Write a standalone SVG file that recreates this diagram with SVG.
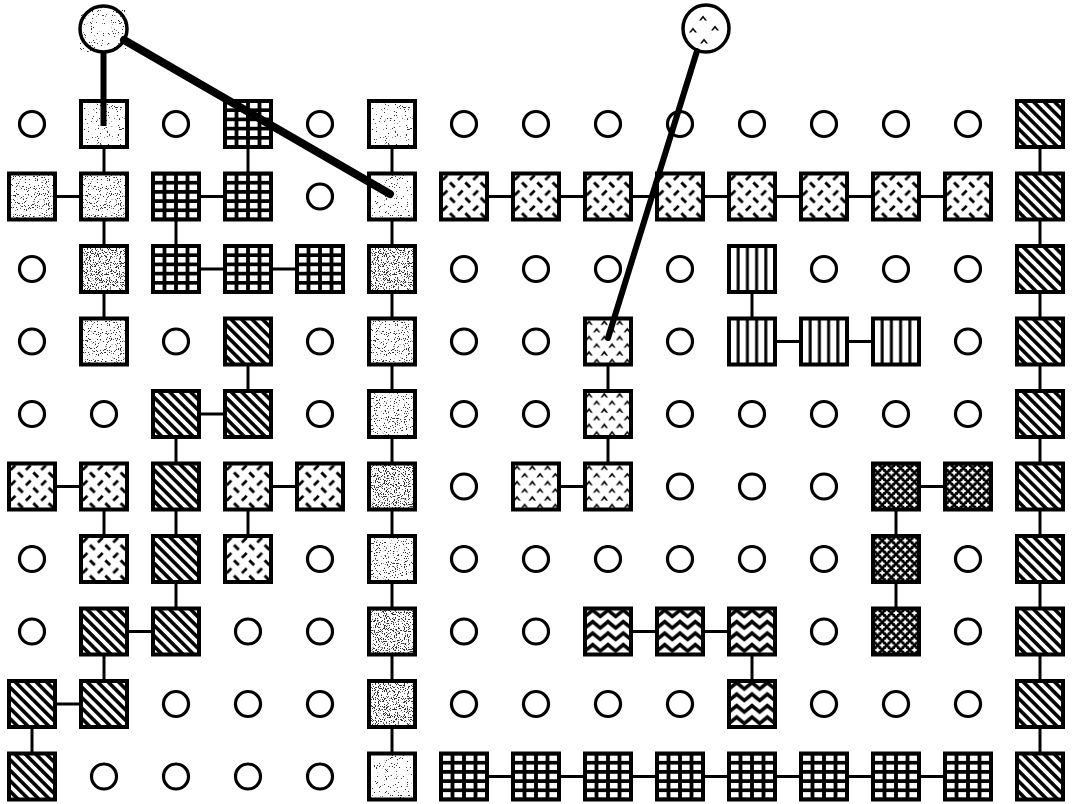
<svg xmlns="http://www.w3.org/2000/svg" width="1072" height="804" viewBox="0 0 1072 804">
<style>
.sq{stroke:#000;stroke-width:4}
.bx{stroke:#000;stroke-width:4;fill:none}
.wh{fill:#fff}
.dot{fill:#fff;stroke:#000;stroke-width:3.2}
.G{fill:url(#pG)}
.D{fill:url(#pD)}
.S{fill:url(#pS)}
.T{fill:url(#pT)}
.V{fill:url(#pV)}
.X{fill:url(#pX)}
.W{fill:url(#pW)}
.La{filter:url(#stA)}
.Lb{filter:url(#stB)}
.Lc{filter:url(#stC)}
.cn line{stroke:#000;stroke-width:3}
.hv{stroke:#000;fill:none}
</style>
<defs>
<pattern id="pG" patternUnits="userSpaceOnUse" x="-28.75" y="-27.6" width="11.5" height="9.2"><rect width="11.5" height="9.2" fill="#fff"/><path d="M5.75 0V9.2M0 4.6H11.5" stroke="#000" stroke-width="3.8"/></pattern>
<pattern id="pV" patternUnits="userSpaceOnUse" x="-27.6" y="0" width="9.2" height="10"><rect width="9.2" height="10" fill="#fff"/><path d="M4.6 0V10" stroke="#000" stroke-width="3"/></pattern>
<pattern id="pD" patternUnits="userSpaceOnUse" x="0" y="0" width="7.4" height="7.4" patternTransform="rotate(-45)"><rect width="7.4" height="7.4" fill="#fff"/><path d="M3.7 0V7.4" stroke="#000" stroke-width="3.6"/></pattern>
<pattern id="pX" patternUnits="userSpaceOnUse" x="-23" y="-23" width="9.2" height="9.2"><rect width="9.2" height="9.2" fill="#000"/><path d="M-2.4 0H2.4M0 -2.4V2.4M6.8 0H11.6M9.2 -2.4V2.4M-2.4 9.2H2.4M0 6.8V11.6M6.8 9.2H11.6M9.2 6.8V11.6M2.2 4.6H7M4.6 2.2V7" stroke="#fff" stroke-width="1.9"/></pattern>
<pattern id="pW" patternUnits="userSpaceOnUse" x="-23" y="-24" width="15.33" height="11.5"><rect width="15.33" height="11.5" fill="#fff"/><path d="M-7.67 2.6L0 9L7.67 2.6L15.33 9L23 2.6" stroke="#000" stroke-width="3.6" fill="none"/></pattern>
<pattern id="pS" patternUnits="userSpaceOnUse" x="-23" y="-23" width="15.33" height="15.33"><rect width="15.33" height="15.33" fill="#fff"/><path d="M1.6 6.4L6.4 1.6M9 9L13.8 13.8" stroke="#000" stroke-width="2.8"/></pattern>
<pattern id="pT" patternUnits="userSpaceOnUse" x="-23" y="-23" width="15.33" height="15.33"><rect width="15.33" height="15.33" fill="#fff"/><path d="M0.3 6.5L4 1.5L7.7 6.5L5.8 6.5L4 4.2L2.2 6.5ZM8 14L11.7 9L15.4 14L13.5 14L11.7 11.7L9.9 14Z" fill="#000"/></pattern>
<filter id="stA" x="0" y="0" width="1" height="1" color-interpolation-filters="sRGB">
<feTurbulence type="fractalNoise" baseFrequency="0.9" numOctaves="2" seed="4" result="n"/>
<feColorMatrix in="n" type="matrix" values="0 0 0 0 0.2 0 0 0 0 0.2 0 0 0 0 0.2 -20 0 0 0 6.5" result="d"/>
<feMerge><feMergeNode in="SourceGraphic"/><feMergeNode in="d"/></feMerge>
</filter>
<filter id="stB" x="0" y="0" width="1" height="1" color-interpolation-filters="sRGB">
<feTurbulence type="fractalNoise" baseFrequency="0.9" numOctaves="2" seed="9" result="n"/>
<feColorMatrix in="n" type="matrix" values="0 0 0 0 0.2 0 0 0 0 0.2 0 0 0 0 0.2 -20 0 0 0 7.5" result="d"/>
<feMerge><feMergeNode in="SourceGraphic"/><feMergeNode in="d"/></feMerge>
</filter>
<filter id="stC" x="0" y="0" width="1" height="1" color-interpolation-filters="sRGB">
<feTurbulence type="fractalNoise" baseFrequency="0.9" numOctaves="2" seed="17" result="n"/>
<feColorMatrix in="n" type="matrix" values="0 0 0 0 0.2 0 0 0 0 0.2 0 0 0 0 0.2 -20 0 0 0 8.7" result="d"/>
<feMerge><feMergeNode in="SourceGraphic"/><feMergeNode in="d"/></feMerge>
</filter>
<rect id="sqr" x="-23" y="-23" width="46" height="46"/>
</defs>
<rect width="1072" height="804" fill="#fff"/>

<g id="top-left-circle" transform="translate(103.5,29)"><ellipse rx="23.5" ry="23" class="wh La"/><ellipse rx="23.5" ry="23" class="bx" style="stroke-width:3.5"/></g>
<g id="top-right-circle" transform="translate(706,28.5)"><ellipse rx="23" ry="23.5" class="dot" style="stroke-width:3.5"/><path d="M-7 -8L-3 -13L1 -8L-1 -8L-3 -10.5L-5 -8ZM-17 4L-13 -1L-9 4L-11 4L-13 1.5L-15 4ZM5 2L9 -3L13 2L11 2L9 -0.5L7 2ZM-6 15L-2 10L2 15L0 15L-2 12.5L-4 15Z" fill="#000"/></g>

<g id="nodes">
<!-- row 1 y=124 -->
<g id="r1c1" transform="translate(32,124)"><circle r="12.5" class="dot"/></g>
<g id="r1c2" transform="translate(104,124)"><use href="#sqr" class="wh La"/><use href="#sqr" class="bx"/></g>
<g id="r1c3" transform="translate(176,124)"><circle r="12.5" class="dot"/></g>
<g id="r1c4" transform="translate(248,124)"><use href="#sqr" class="sq G"/></g>
<g id="r1c5" transform="translate(320,124)"><circle r="12.5" class="dot"/></g>
<g id="r1c6" transform="translate(392,124)"><use href="#sqr" class="wh La"/><use href="#sqr" class="bx"/></g>
<g id="r1c7" transform="translate(464,124)"><circle r="12.5" class="dot"/></g>
<g id="r1c8" transform="translate(536,124)"><circle r="12.5" class="dot"/></g>
<g id="r1c9" transform="translate(608,124)"><circle r="12.5" class="dot"/></g>
<g id="r1c10" transform="translate(680,124)"><circle r="12.5" class="dot"/></g>
<g id="r1c11" transform="translate(752,124)"><circle r="12.5" class="dot"/></g>
<g id="r1c12" transform="translate(824,124)"><circle r="12.5" class="dot"/></g>
<g id="r1c13" transform="translate(896,124)"><circle r="12.5" class="dot"/></g>
<g id="r1c14" transform="translate(968,124)"><circle r="12.5" class="dot"/></g>
<g id="r1c15" transform="translate(1040,124)"><use href="#sqr" class="sq D"/></g>
<!-- row 2 y=196.5 -->
<g id="r2c1" transform="translate(32,196.5)"><use href="#sqr" class="wh Lb"/><use href="#sqr" class="bx"/></g>
<g id="r2c2" transform="translate(104,196.5)"><use href="#sqr" class="wh Lb"/><use href="#sqr" class="bx"/></g>
<g id="r2c3" transform="translate(176,196.5)"><use href="#sqr" class="sq G"/></g>
<g id="r2c4" transform="translate(248,196.5)"><use href="#sqr" class="sq G"/></g>
<g id="r2c5" transform="translate(320,196.5)"><circle r="12.5" class="dot"/></g>
<g id="r2c6" transform="translate(392,196.5)"><use href="#sqr" class="wh La"/><use href="#sqr" class="bx"/></g>
<g id="r2c7" transform="translate(464,196.5)"><use href="#sqr" class="sq S"/></g>
<g id="r2c8" transform="translate(536,196.5)"><use href="#sqr" class="sq S"/></g>
<g id="r2c9" transform="translate(608,196.5)"><use href="#sqr" class="sq S"/></g>
<g id="r2c10" transform="translate(680,196.5)"><use href="#sqr" class="sq S"/></g>
<g id="r2c11" transform="translate(752,196.5)"><use href="#sqr" class="sq S"/></g>
<g id="r2c12" transform="translate(824,196.5)"><use href="#sqr" class="sq S"/></g>
<g id="r2c13" transform="translate(896,196.5)"><use href="#sqr" class="sq S"/></g>
<g id="r2c14" transform="translate(968,196.5)"><use href="#sqr" class="sq S"/></g>
<g id="r2c15" transform="translate(1040,196.5)"><use href="#sqr" class="sq D"/></g>
<!-- row 3 y=269 -->
<g id="r3c1" transform="translate(32,269)"><circle r="12.5" class="dot"/></g>
<g id="r3c2" transform="translate(104,269)"><use href="#sqr" class="wh Lc"/><use href="#sqr" class="bx"/></g>
<g id="r3c3" transform="translate(176,269)"><use href="#sqr" class="sq G"/></g>
<g id="r3c4" transform="translate(248,269)"><use href="#sqr" class="sq G"/></g>
<g id="r3c5" transform="translate(320,269)"><use href="#sqr" class="sq G"/></g>
<g id="r3c6" transform="translate(392,269)"><use href="#sqr" class="wh Lc"/><use href="#sqr" class="bx"/></g>
<g id="r3c7" transform="translate(464,269)"><circle r="12.5" class="dot"/></g>
<g id="r3c8" transform="translate(536,269)"><circle r="12.5" class="dot"/></g>
<g id="r3c9" transform="translate(608,269)"><circle r="12.5" class="dot"/></g>
<g id="r3c10" transform="translate(680,269)"><circle r="12.5" class="dot"/></g>
<g id="r3c11" transform="translate(752,269)"><use href="#sqr" class="sq V"/></g>
<g id="r3c12" transform="translate(824,269)"><circle r="12.5" class="dot"/></g>
<g id="r3c13" transform="translate(896,269)"><circle r="12.5" class="dot"/></g>
<g id="r3c14" transform="translate(968,269)"><circle r="12.5" class="dot"/></g>
<g id="r3c15" transform="translate(1040,269)"><use href="#sqr" class="sq D"/></g>
<!-- row 4 y=341.5 -->
<g id="r4c1" transform="translate(32,341.5)"><circle r="12.5" class="dot"/></g>
<g id="r4c2" transform="translate(104,341.5)"><use href="#sqr" class="wh Lb"/><use href="#sqr" class="bx"/></g>
<g id="r4c3" transform="translate(176,341.5)"><circle r="12.5" class="dot"/></g>
<g id="r4c4" transform="translate(248,341.5)"><use href="#sqr" class="sq D"/></g>
<g id="r4c5" transform="translate(320,341.5)"><circle r="12.5" class="dot"/></g>
<g id="r4c6" transform="translate(392,341.5)"><use href="#sqr" class="wh Lb"/><use href="#sqr" class="bx"/></g>
<g id="r4c7" transform="translate(464,341.5)"><circle r="12.5" class="dot"/></g>
<g id="r4c8" transform="translate(536,341.5)"><circle r="12.5" class="dot"/></g>
<g id="r4c9" transform="translate(608,341.5)"><use href="#sqr" class="sq T"/></g>
<g id="r4c10" transform="translate(680,341.5)"><circle r="12.5" class="dot"/></g>
<g id="r4c11" transform="translate(752,341.5)"><use href="#sqr" class="sq V"/></g>
<g id="r4c12" transform="translate(824,341.5)"><use href="#sqr" class="sq V"/></g>
<g id="r4c13" transform="translate(896,341.5)"><use href="#sqr" class="sq V"/></g>
<g id="r4c14" transform="translate(968,341.5)"><circle r="12.5" class="dot"/></g>
<g id="r4c15" transform="translate(1040,341.5)"><use href="#sqr" class="sq D"/></g>
<!-- row 5 y=414 -->
<g id="r5c1" transform="translate(32,414)"><circle r="12.5" class="dot"/></g>
<g id="r5c2" transform="translate(104,414)"><circle r="12.5" class="dot"/></g>
<g id="r5c3" transform="translate(176,414)"><use href="#sqr" class="sq D"/></g>
<g id="r5c4" transform="translate(248,414)"><use href="#sqr" class="sq D"/></g>
<g id="r5c5" transform="translate(320,414)"><circle r="12.5" class="dot"/></g>
<g id="r5c6" transform="translate(392,414)"><use href="#sqr" class="wh Lb"/><use href="#sqr" class="bx"/></g>
<g id="r5c7" transform="translate(464,414)"><circle r="12.5" class="dot"/></g>
<g id="r5c8" transform="translate(536,414)"><circle r="12.5" class="dot"/></g>
<g id="r5c9" transform="translate(608,414)"><use href="#sqr" class="sq T"/></g>
<g id="r5c10" transform="translate(680,414)"><circle r="12.5" class="dot"/></g>
<g id="r5c11" transform="translate(752,414)"><circle r="12.5" class="dot"/></g>
<g id="r5c12" transform="translate(824,414)"><circle r="12.5" class="dot"/></g>
<g id="r5c13" transform="translate(896,414)"><circle r="12.5" class="dot"/></g>
<g id="r5c14" transform="translate(968,414)"><circle r="12.5" class="dot"/></g>
<g id="r5c15" transform="translate(1040,414)"><use href="#sqr" class="sq D"/></g>
<!-- row 6 y=486.5 -->
<g id="r6c1" transform="translate(32,486.5)"><use href="#sqr" class="sq S"/></g>
<g id="r6c2" transform="translate(104,486.5)"><use href="#sqr" class="sq S"/></g>
<g id="r6c3" transform="translate(176,486.5)"><use href="#sqr" class="sq D"/></g>
<g id="r6c4" transform="translate(248,486.5)"><use href="#sqr" class="sq S"/></g>
<g id="r6c5" transform="translate(320,486.5)"><use href="#sqr" class="sq S"/></g>
<g id="r6c6" transform="translate(392,486.5)"><use href="#sqr" class="wh Lc"/><use href="#sqr" class="bx"/></g>
<g id="r6c7" transform="translate(464,486.5)"><circle r="12.5" class="dot"/></g>
<g id="r6c8" transform="translate(536,486.5)"><use href="#sqr" class="sq T"/></g>
<g id="r6c9" transform="translate(608,486.5)"><use href="#sqr" class="sq T"/></g>
<g id="r6c10" transform="translate(680,486.5)"><circle r="12.5" class="dot"/></g>
<g id="r6c11" transform="translate(752,486.5)"><circle r="12.5" class="dot"/></g>
<g id="r6c12" transform="translate(824,486.5)"><circle r="12.5" class="dot"/></g>
<g id="r6c13" transform="translate(896,486.5)"><use href="#sqr" class="sq X"/></g>
<g id="r6c14" transform="translate(968,486.5)"><use href="#sqr" class="sq X"/></g>
<g id="r6c15" transform="translate(1040,486.5)"><use href="#sqr" class="sq D"/></g>
<!-- row 7 y=559 -->
<g id="r7c1" transform="translate(32,559)"><circle r="12.5" class="dot"/></g>
<g id="r7c2" transform="translate(104,559)"><use href="#sqr" class="sq S"/></g>
<g id="r7c3" transform="translate(176,559)"><use href="#sqr" class="sq D"/></g>
<g id="r7c4" transform="translate(248,559)"><use href="#sqr" class="sq S"/></g>
<g id="r7c5" transform="translate(320,559)"><circle r="12.5" class="dot"/></g>
<g id="r7c6" transform="translate(392,559)"><use href="#sqr" class="wh Lb"/><use href="#sqr" class="bx"/></g>
<g id="r7c7" transform="translate(464,559)"><circle r="12.5" class="dot"/></g>
<g id="r7c8" transform="translate(536,559)"><circle r="12.5" class="dot"/></g>
<g id="r7c9" transform="translate(608,559)"><circle r="12.5" class="dot"/></g>
<g id="r7c10" transform="translate(680,559)"><circle r="12.5" class="dot"/></g>
<g id="r7c11" transform="translate(752,559)"><circle r="12.5" class="dot"/></g>
<g id="r7c12" transform="translate(824,559)"><circle r="12.5" class="dot"/></g>
<g id="r7c13" transform="translate(896,559)"><use href="#sqr" class="sq X"/></g>
<g id="r7c14" transform="translate(968,559)"><circle r="12.5" class="dot"/></g>
<g id="r7c15" transform="translate(1040,559)"><use href="#sqr" class="sq D"/></g>
<!-- row 8 y=631.5 -->
<g id="r8c1" transform="translate(32,631.5)"><circle r="12.5" class="dot"/></g>
<g id="r8c2" transform="translate(104,631.5)"><use href="#sqr" class="sq D"/></g>
<g id="r8c3" transform="translate(176,631.5)"><use href="#sqr" class="sq D"/></g>
<g id="r8c4" transform="translate(248,631.5)"><circle r="12.5" class="dot"/></g>
<g id="r8c5" transform="translate(320,631.5)"><circle r="12.5" class="dot"/></g>
<g id="r8c6" transform="translate(392,631.5)"><use href="#sqr" class="wh Lc"/><use href="#sqr" class="bx"/></g>
<g id="r8c7" transform="translate(464,631.5)"><circle r="12.5" class="dot"/></g>
<g id="r8c8" transform="translate(536,631.5)"><circle r="12.5" class="dot"/></g>
<g id="r8c9" transform="translate(608,631.5)"><use href="#sqr" class="sq W"/></g>
<g id="r8c10" transform="translate(680,631.5)"><use href="#sqr" class="sq W"/></g>
<g id="r8c11" transform="translate(752,631.5)"><use href="#sqr" class="sq W"/></g>
<g id="r8c12" transform="translate(824,631.5)"><circle r="12.5" class="dot"/></g>
<g id="r8c13" transform="translate(896,631.5)"><use href="#sqr" class="sq X"/></g>
<g id="r8c14" transform="translate(968,631.5)"><circle r="12.5" class="dot"/></g>
<g id="r8c15" transform="translate(1040,631.5)"><use href="#sqr" class="sq D"/></g>
<!-- row 9 y=704 -->
<g id="r9c1" transform="translate(32,704)"><use href="#sqr" class="sq D"/></g>
<g id="r9c2" transform="translate(104,704)"><use href="#sqr" class="sq D"/></g>
<g id="r9c3" transform="translate(176,704)"><circle r="12.5" class="dot"/></g>
<g id="r9c4" transform="translate(248,704)"><circle r="12.5" class="dot"/></g>
<g id="r9c5" transform="translate(320,704)"><circle r="12.5" class="dot"/></g>
<g id="r9c6" transform="translate(392,704)"><use href="#sqr" class="wh Lc"/><use href="#sqr" class="bx"/></g>
<g id="r9c7" transform="translate(464,704)"><circle r="12.5" class="dot"/></g>
<g id="r9c8" transform="translate(536,704)"><circle r="12.5" class="dot"/></g>
<g id="r9c9" transform="translate(608,704)"><circle r="12.5" class="dot"/></g>
<g id="r9c10" transform="translate(680,704)"><circle r="12.5" class="dot"/></g>
<g id="r9c11" transform="translate(752,704)"><use href="#sqr" class="sq W"/></g>
<g id="r9c12" transform="translate(824,704)"><circle r="12.5" class="dot"/></g>
<g id="r9c13" transform="translate(896,704)"><circle r="12.5" class="dot"/></g>
<g id="r9c14" transform="translate(968,704)"><circle r="12.5" class="dot"/></g>
<g id="r9c15" transform="translate(1040,704)"><use href="#sqr" class="sq D"/></g>
<!-- row 10 y=776.5 -->
<g id="r10c1" transform="translate(32,776.5)"><use href="#sqr" class="sq D"/></g>
<g id="r10c2" transform="translate(104,776.5)"><circle r="12.5" class="dot"/></g>
<g id="r10c3" transform="translate(176,776.5)"><circle r="12.5" class="dot"/></g>
<g id="r10c4" transform="translate(248,776.5)"><circle r="12.5" class="dot"/></g>
<g id="r10c5" transform="translate(320,776.5)"><circle r="12.5" class="dot"/></g>
<g id="r10c6" transform="translate(392,776.5)"><use href="#sqr" class="wh La"/><use href="#sqr" class="bx"/></g>
<g id="r10c7" transform="translate(464,776.5)"><use href="#sqr" class="sq G"/></g>
<g id="r10c8" transform="translate(536,776.5)"><use href="#sqr" class="sq G"/></g>
<g id="r10c9" transform="translate(608,776.5)"><use href="#sqr" class="sq G"/></g>
<g id="r10c10" transform="translate(680,776.5)"><use href="#sqr" class="sq G"/></g>
<g id="r10c11" transform="translate(752,776.5)"><use href="#sqr" class="sq G"/></g>
<g id="r10c12" transform="translate(824,776.5)"><use href="#sqr" class="sq G"/></g>
<g id="r10c13" transform="translate(896,776.5)"><use href="#sqr" class="sq G"/></g>
<g id="r10c14" transform="translate(968,776.5)"><use href="#sqr" class="sq G"/></g>
<g id="r10c15" transform="translate(1040,776.5)"><use href="#sqr" class="sq D"/></g>
</g>

<g id="connectors" class="cn">
<!-- horizontal -->
<line x1="55" y1="196.5" x2="81" y2="196.5"/>
<line x1="199" y1="196.5" x2="225" y2="196.5"/>
<line x1="487" y1="196.5" x2="513" y2="196.5"/>
<line x1="559" y1="196.5" x2="585" y2="196.5"/>
<line x1="631" y1="196.5" x2="657" y2="196.5"/>
<line x1="703" y1="196.5" x2="729" y2="196.5"/>
<line x1="775" y1="196.5" x2="801" y2="196.5"/>
<line x1="847" y1="196.5" x2="873" y2="196.5"/>
<line x1="919" y1="196.5" x2="945" y2="196.5"/>
<line x1="199" y1="269" x2="225" y2="269"/>
<line x1="271" y1="269" x2="297" y2="269"/>
<line x1="775" y1="341.5" x2="801" y2="341.5"/>
<line x1="847" y1="341.5" x2="873" y2="341.5"/>
<line x1="199" y1="414" x2="225" y2="414"/>
<line x1="55" y1="486.5" x2="81" y2="486.5"/>
<line x1="271" y1="486.5" x2="297" y2="486.5"/>
<line x1="559" y1="486.5" x2="585" y2="486.5"/>
<line x1="919" y1="486.5" x2="945" y2="486.5"/>
<line x1="127" y1="631.5" x2="153" y2="631.5"/>
<line x1="631" y1="631.5" x2="657" y2="631.5"/>
<line x1="703" y1="631.5" x2="729" y2="631.5"/>
<line x1="55" y1="704" x2="81" y2="704"/>
<line x1="487" y1="776.5" x2="513" y2="776.5"/>
<line x1="559" y1="776.5" x2="585" y2="776.5"/>
<line x1="631" y1="776.5" x2="657" y2="776.5"/>
<line x1="703" y1="776.5" x2="729" y2="776.5"/>
<line x1="775" y1="776.5" x2="801" y2="776.5"/>
<line x1="847" y1="776.5" x2="873" y2="776.5"/>
<line x1="919" y1="776.5" x2="945" y2="776.5"/>
<!-- vertical -->
<line x1="104" y1="147" x2="104" y2="173.5"/>
<line x1="104" y1="219.5" x2="104" y2="246"/>
<line x1="104" y1="292" x2="104" y2="318.5"/>
<line x1="104" y1="509.5" x2="104" y2="536"/>
<line x1="104" y1="654.5" x2="104" y2="681"/>
<line x1="176" y1="219.5" x2="176" y2="246"/>
<line x1="176" y1="437" x2="176" y2="463.5"/>
<line x1="176" y1="509.5" x2="176" y2="536"/>
<line x1="176" y1="582" x2="176" y2="608.5"/>
<line x1="248" y1="147" x2="248" y2="173.5"/>
<line x1="248" y1="364.5" x2="248" y2="391"/>
<line x1="248" y1="509.5" x2="248" y2="536"/>
<line x1="392" y1="147" x2="392" y2="173.5"/>
<line x1="392" y1="219.5" x2="392" y2="246"/>
<line x1="392" y1="292" x2="392" y2="318.5"/>
<line x1="392" y1="364.5" x2="392" y2="391"/>
<line x1="392" y1="437" x2="392" y2="463.5"/>
<line x1="392" y1="509.5" x2="392" y2="536"/>
<line x1="392" y1="582" x2="392" y2="608.5"/>
<line x1="392" y1="654.5" x2="392" y2="681"/>
<line x1="392" y1="727" x2="392" y2="753.5"/>
<line x1="608" y1="364.5" x2="608" y2="391"/>
<line x1="608" y1="437" x2="608" y2="463.5"/>
<line x1="752" y1="292" x2="752" y2="318.5"/>
<line x1="752" y1="654.5" x2="752" y2="681"/>
<line x1="896" y1="509.5" x2="896" y2="536"/>
<line x1="896" y1="582" x2="896" y2="608.5"/>
<line x1="1040" y1="147" x2="1040" y2="173.5"/>
<line x1="1040" y1="219.5" x2="1040" y2="246"/>
<line x1="1040" y1="292" x2="1040" y2="318.5"/>
<line x1="1040" y1="364.5" x2="1040" y2="391"/>
<line x1="1040" y1="437" x2="1040" y2="463.5"/>
<line x1="1040" y1="509.5" x2="1040" y2="536"/>
<line x1="1040" y1="582" x2="1040" y2="608.5"/>
<line x1="1040" y1="654.5" x2="1040" y2="681"/>
<line x1="1040" y1="727" x2="1040" y2="753.5"/>
<line x1="32" y1="727" x2="32" y2="753.5"/>
<!-- heavy leads from the top circles -->
<line class="hv" x1="103.5" y1="52" x2="103.5" y2="126" style="stroke-width:6"/>
<line class="hv" x1="124" y1="40" x2="390" y2="194" style="stroke-width:8;stroke-linecap:round"/>
<line class="hv" x1="697" y1="51" x2="608" y2="338" style="stroke-width:6;stroke-linecap:round"/>
</g>
</svg>
